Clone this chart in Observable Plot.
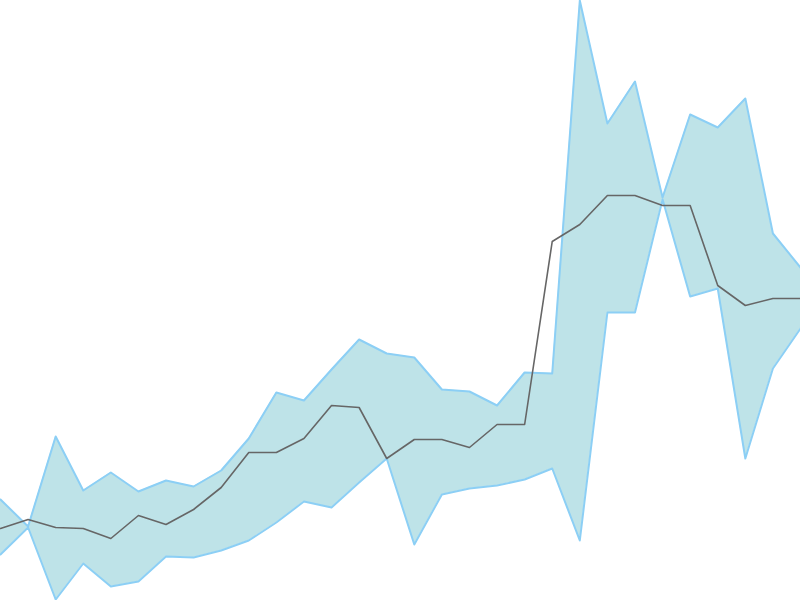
<!DOCTYPE html>
<html><head><meta charset="utf-8">
<script src="https://cdn.jsdelivr.net/npm/d3@7"></script>
<script src="https://cdn.jsdelivr.net/npm/@observablehq/plot@0.6"></script>
<style>html,body{margin:0;padding:0;background:#fff;overflow:hidden}</style>
</head><body><div id="chart"></div>
<script>
const xs = d3.range(30);
const upper = [101,74,164,110,128,109,120,114,130,162,208,200,231,261,247,243,211,209,195,228,227,600,477,519,403,486,473,502,367,333];
const lower = [46,73,1,37,14,19,44,43,50,60,78,99,93,118,142,56,106,112,115,121,132,60,288,288,401,304,312,142,232,272];
const mid   = [72,81,73,72,62,85,76,91,113,148,148,162,195,193,142,161,161,153,176,176,359,376,405,405,395,395,315,295,302,302];
const data = xs.map((x,i)=>({x, upper: upper[i], lower: lower[i], mid: mid[i]}));
const chart = Plot.plot({
  width: 800, height: 600,
  margin: 0,
  x: {domain: [0, 29], axis: null},
  y: {domain: [0, 600], axis: null},
  marks: [
    Plot.areaY(data, {x: "x", y1: "lower", y2: "upper", fill: "#bee3e8"}),
    Plot.lineY(data, {x: "x", y: "upper", stroke: "#8ccff5", strokeWidth: 2}),
    Plot.lineY(data, {x: "x", y: "lower", stroke: "#8ccff5", strokeWidth: 2}),
    Plot.lineY(data, {x: "x", y: "mid", stroke: "#666666", strokeWidth: 1.6})
  ]
});
document.getElementById("chart").appendChild(chart);
</script></body></html>
